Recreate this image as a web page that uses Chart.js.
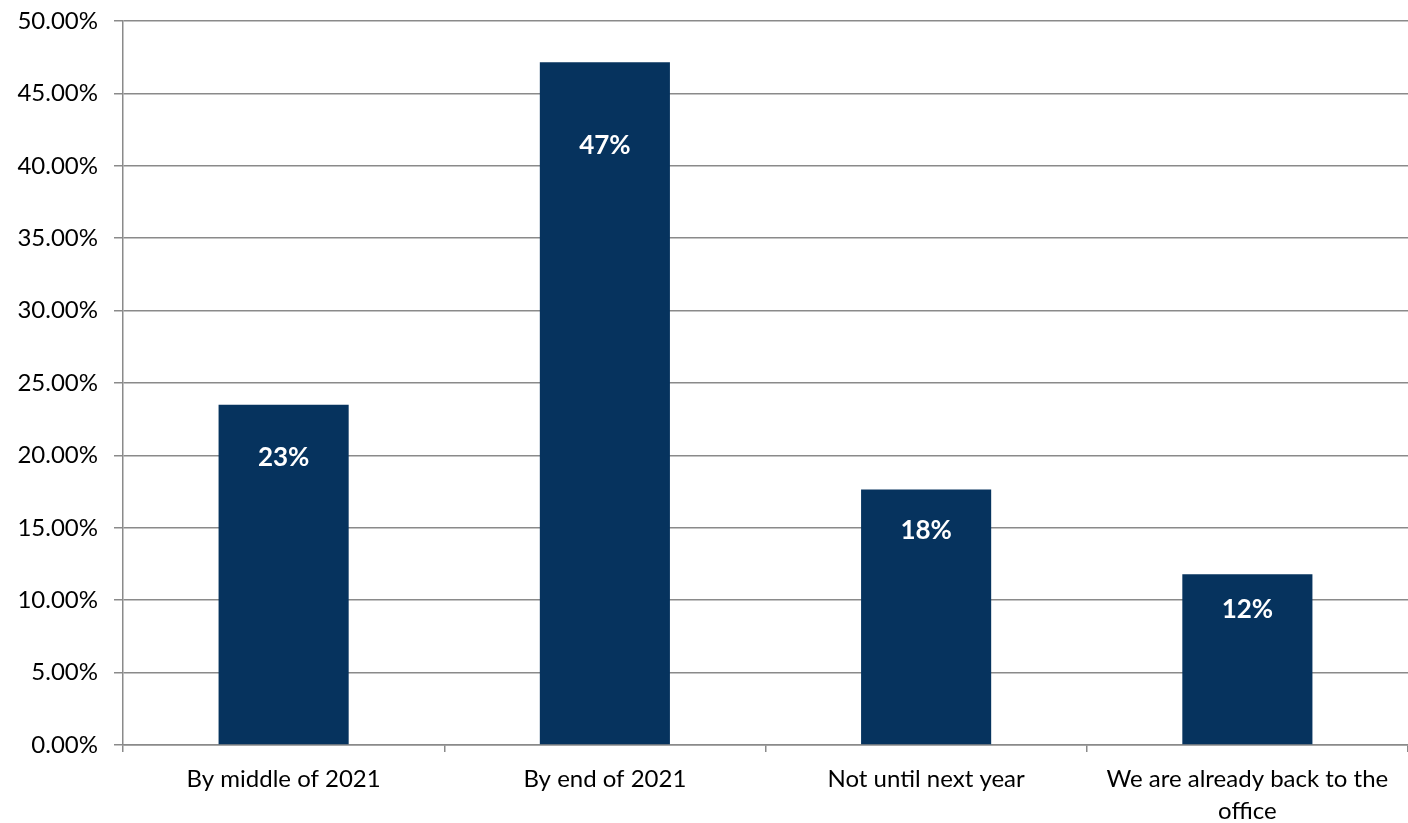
<!DOCTYPE html>
<html>
<head>
<meta charset="utf-8">
<script src="https://cdn.jsdelivr.net/npm/chart.js@4"></script>
<style>
  html, body { margin: 0; padding: 0; background: #ffffff; }
  #wrap { width: 1408px; height: 823px; position: relative; }
</style>
</head>
<body>
<div id="wrap"><canvas id="myChart"></canvas></div>
<script>
// data
const categories = [
  "By middle of 2021",
  "By end of 2021",
  "Not until next year",
  ["We are already back to the", "office"],
];
const shares = [23.5, 47.15, 17.65, 11.8];
const valueLabels = ["23%", "47%", "18%", "12%"];

// style constants
const BAR_COLOR = "#06335e";
const GRID_COLOR = "#8a8a8a";
const FONT_FAMILY = "Lato, 'Noto Sans', sans-serif";
// how far below the bar top each value label sits (px)
const LABEL_OFFSETS = [53, 83, 41, 35];

Chart.defaults.font.family = FONT_FAMILY;
Chart.defaults.color = "#000000";

// draws the white value labels inside the bars
const barLabels = {
  id: "barLabels",
  afterDatasetsDraw(chart) {
    const ctx = chart.ctx;
    const meta = chart.getDatasetMeta(0);
    ctx.save();
    ctx.fillStyle = "#ffffff";
    ctx.font = "bold 26px " + FONT_FAMILY;
    ctx.textAlign = "center";
    ctx.textBaseline = "middle";
    meta.data.forEach((bar, i) => {
      ctx.fillText(valueLabels[i], bar.x, bar.y + LABEL_OFFSETS[i]);
    });
    ctx.restore();
  },
};

const ctx = document.getElementById("myChart").getContext("2d");
new Chart(ctx, {
  type: "bar",
  data: {
    labels: categories,
    datasets: [{
      data: shares,
      backgroundColor: BAR_COLOR,
      borderWidth: 0,
      barPercentage: 0.405,
      categoryPercentage: 1,
    }],
  },
  options: {
    responsive: true,
    maintainAspectRatio: false,
    animation: false,
    layout: { padding: { top: 21, right: 0, left: 0, bottom: 0 } },
    scales: {
      x: {
        grid: {
          offset: true,
          drawOnChartArea: false,
          drawTicks: true,
          tickLength: 7,
          color: GRID_COLOR,
          lineWidth: 1.5,
        },
        border: { color: GRID_COLOR, width: 1.5 },
        ticks: {
          font: { size: 24, lineHeight: 1.3 },
          padding: 12,
          maxRotation: 0,
          autoSkip: false,
        },
        afterFit(axis) { axis.height = 78; },
      },
      y: {
        min: 0,
        max: 50,
        grid: {
          color: GRID_COLOR,
          lineWidth: 1.5,
          tickLength: 9,
        },
        border: { color: GRID_COLOR, width: 1.5 },
        ticks: {
          stepSize: 5,
          font: { size: 24 },
          padding: 16,
          callback: (v) => v.toFixed(2) + "%",
        },
        afterFit(axis) {
          axis.width = 123;
          // let the plot start right at the layout padding
          axis.paddingTop = 0;
          axis.paddingBottom = 0;
        },
      },
    },
    plugins: {
      legend: { display: false },
      tooltip: { enabled: false },
      title: { display: false },
    },
  },
  plugins: [barLabels],
});
</script>
</body>
</html>
